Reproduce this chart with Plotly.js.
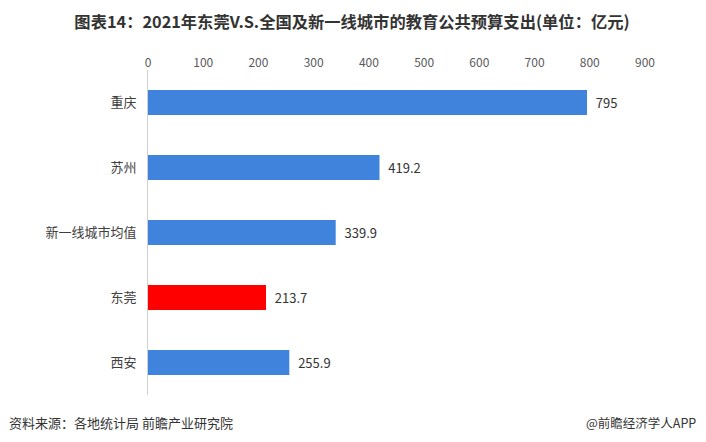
<!DOCTYPE html>
<html><head><meta charset="utf-8">
<script src="https://cdn.plot.ly/plotly-3.0.1.min.js"></script>
<style>html,body{margin:0;padding:0;background:#fff;}#chart{width:706px;height:442px;}</style>
</head><body><div id="chart"></div>
<script>
const categories = ["重庆", "苏州", "新一线城市均值", "东莞", "西安"];
const values = [795, 419.2, 339.9, 213.7, 255.9];
const barColors = ["#3F83DC", "#3F83DC", "#3F83DC", "#FF0000", "#3F83DC"];
const tickVals = [0, 100, 200, 300, 400, 500, 600, 700, 800, 900];

const font = "Noto Sans CJK SC, sans-serif";
const trace = {
  type: "bar", orientation: "h",
  y: categories, x: values,
  marker: {color: barColors},
  text: values.map(v => "  " + String(v)),
  textposition: "outside",
  textfont: {family: font, size: 13, color: "#333"},
  cliponaxis: false,
  hoverinfo: "none"
};
const W = 706 - 148 - 61;
const layout = {
  width: 706, height: 442,
  margin: {l: 148, r: 61, t: 70, b: 47},
  paper_bgcolor: "#fff", plot_bgcolor: "#fff",
  bargap: 0.615,
  showlegend: false,
  title: {text: "<b>图表14：2021年东莞V.S.全国及新一线城市的教育公共预算支出(单位：亿元)</b>",
    font: {family: font, size: 16.3, color: "#333"}, x: 0.4986, xanchor: "center", y: 0.95, yanchor: "middle"},
  xaxis: {side: "top", range: [0, 900], tickvals: tickVals, showgrid: false, zeroline: false,
    showline: false, ticks: "", tickfont: {family: font, size: 12, color: "#595959"}, fixedrange: true},
  yaxis: {autorange: "reversed", showgrid: false, zeroline: false, showline: true, linecolor: "#d0d0d0",
    linewidth: 1, ticks: "", ticklabelstandoff: 8, tickfont: {family: font, size: 13, color: "#404040"}},
  annotations: [
    {text: "资料来源：各地统计局 前瞻产业研究院", xref: "paper", yref: "paper", x: -141/W, y: -27/325,
     xanchor: "left", yanchor: "middle", showarrow: false, font: {family: font, size: 13, color: "#333"}},
    {text: "@前瞻经济学人APP", xref: "paper", yref: "paper", x: (698-148)/W, y: -27/325,
     xanchor: "right", yanchor: "middle", showarrow: false, font: {family: font, size: 12.5, color: "#333"}}
  ]
};
Plotly.newPlot("chart", [trace], layout, {staticPlot: true});
</script></body></html>
